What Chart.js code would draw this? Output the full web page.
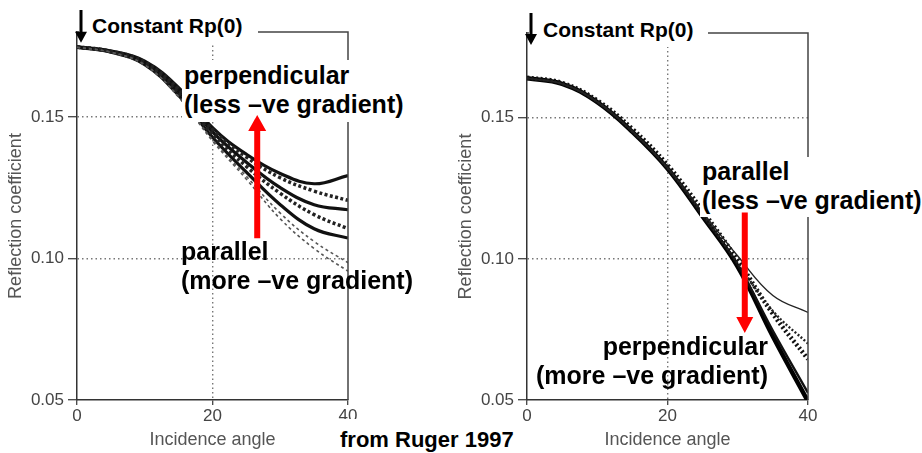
<!DOCTYPE html>
<html>
<head>
<meta charset="utf-8">
<script src="https://cdn.jsdelivr.net/npm/chart.js@4.4.1/dist/chart.umd.min.js"></script>
<style>
    body { margin: 0; background: #fff; }
    #lienzo { position: relative; width: 922px; height: 453px; overflow: hidden; font-family: "Liberation Sans", Arial, sans-serif; }
    canvas { position: absolute; top: 0; z-index: 1; }
    .nota { position: absolute; font-weight: bold; color: #000; white-space: nowrap; z-index: 2; }
    .grande { font-size: 25px; line-height: 29px; }
    .chica { font-size: 21px; line-height: 24px; }
    .caja { background: #fff; }
    svg { position: absolute; left: 0; top: 0; z-index: 3; }
</style>
</head>
<body>
<div id="lienzo">
    <canvas id="graficoIzq" width="455" height="453" style="left:0"></canvas>
    <canvas id="graficoDer" width="467" height="453" style="left:455px"></canvas>

    <div class="nota chica caja" style="left:79px; top:11px; width:166px; padding:3px 0 5px 13px;">Constant Rp(0)</div>
    <div class="nota chica caja" style="left:529px; top:15px; width:165px; padding:3px 0 5px 14px;">Constant Rp(0)</div>

    <div class="nota grande caja" style="left:182px; top:60px; width:221px; padding:1px 0 3px 2px;">perpendicular<br>(less –ve gradient)</div>
    <div class="nota grande" style="left:181px; top:237px;">parallel<br>(more –ve gradient)</div>

    <div class="nota grande caja" style="left:700px; top:157px; width:222px; padding:0 0 2px 2px;">parallel<br>(less –ve gradient)</div>
    <div class="nota grande" style="right:154px; top:332px; text-align:right;">perpendicular<br>(more –ve gradient)</div>

    <div class="nota caja" style="left:334px; top:419px; width:180px; padding:8px 0 0 6px; font-size:22px; line-height:26px;">from Ruger 1997</div>

    <svg id="flechas" width="922" height="453"></svg>
</div>

<script>
const angulos = [0, 5, 10, 15, 20, 25, 30, 35, 40];
const ticksX = [0, 20, 40];
const ticksY = [0.05, 0.10, 0.15];

// grafico izquierdo
const izqSolida1 = [0.1748, 0.1733, 0.1697, 0.1603, 0.1462, 0.1368, 0.1300, 0.1264, 0.1293];
const izqPuntos1 = [0.1748, 0.1732, 0.1694, 0.1598, 0.1456, 0.1358, 0.1285, 0.1238, 0.1205];
const izqSolida2 = [0.1747, 0.1731, 0.1691, 0.1590, 0.1447, 0.1340, 0.1250, 0.1190, 0.1172];
const izqPuntos2 = [0.1747, 0.1730, 0.1688, 0.1583, 0.1438, 0.1325, 0.1230, 0.1155, 0.1105];
const izqSolida3 = [0.1746, 0.1729, 0.1685, 0.1576, 0.1428, 0.1305, 0.1190, 0.1105, 0.1072];
const izqGuion1 = [0.1746, 0.1729, 0.1684, 0.1572, 0.1420, 0.1290, 0.1160, 0.1060, 0.0985];
const izqGuion2 = [0.1746, 0.1728, 0.1683, 0.1570, 0.1415, 0.1280, 0.1140, 0.1035, 0.0955];

// grafico derecho
const derFina = [0.1640, 0.1620, 0.1556, 0.1452, 0.1323, 0.1165, 0.1010, 0.0870, 0.0810];
const derPuntos1 = [0.1640, 0.1620, 0.1556, 0.1451, 0.1322, 0.1158, 0.0985, 0.0815, 0.0700];
const derPuntos2 = [0.1642, 0.1623, 0.1561, 0.1460, 0.1332, 0.1170, 0.0995, 0.0805, 0.0645];
const derSolida = [0.1640, 0.1620, 0.1555, 0.1450, 0.1320, 0.1152, 0.0978, 0.0745, 0.0525];
const derGruesa = [0.1640, 0.1620, 0.1555, 0.1450, 0.1320, 0.1150, 0.0972, 0.0725, 0.0495];

// flechas rojas: angulo, valor de inicio, valor de la punta
const flechaIzq = [26.6, 0.1071, 0.1507];
const flechaDer = [31.0, 0.1164, 0.0737];

Chart.defaults.font.family = "'Liberation Sans', Arial, sans-serif";

const marco = {
    id: "marco",
    afterDraw(chart) {
        const { ctx, chartArea } = chart;
        ctx.save();
        ctx.strokeStyle = "#444";
        ctx.lineWidth = 1.5;
        ctx.beginPath();
        ctx.moveTo(chartArea.left, chartArea.top);
        ctx.lineTo(chartArea.right, chartArea.top);
        ctx.lineTo(chartArea.right, chartArea.bottom);
        ctx.stroke();
        ctx.restore();
    }
};

function serie(valores, color, grosor, guion) {
    return {
        data: angulos.map((a, i) => ({ x: a, y: valores[i] })),
        borderColor: color,
        borderWidth: grosor,
        borderDash: guion || [],
        pointRadius: 0,
        tension: 0.4,
        fill: false
    };
}

function escalas(anchoEjeY, rellenoTitulo) {
    return {
        x: {
            type: "linear",
            min: 0,
            max: 40,
            afterBuildTicks: s => { s.ticks = ticksX.map(v => ({ value: v })); },
            afterFit: s => { s.height = 53; },
            border: { color: "#333", width: 1.5, dash: [1.5, 3] },
            grid: {
                color: c => (c.tick && c.tick.value === 20) ? "#777" : "rgba(0,0,0,0)",
                lineWidth: 1.4,
                tickBorderDash: [],
                tickColor: "#444",
                tickWidth: 1.3,
                tickLength: 5
            },
            ticks: { color: "#444", font: { size: 17 }, padding: 1, maxRotation: 0 },
            title: {
                display: true,
                text: "Incidence angle",
                color: "#555",
                font: { size: 18 },
                padding: { top: 0, bottom: 2 }
            }
        },
        y: {
            type: "linear",
            min: 0.05,
            max: 0.18,
            afterBuildTicks: s => { s.ticks = ticksY.map(v => ({ value: v })); },
            afterFit: s => { s.width = anchoEjeY; },
            border: { color: "#333", width: 1.5, dash: [1.5, 3] },
            grid: {
                color: c => (c.tick && c.tick.value > 0.06) ? "#777" : "rgba(0,0,0,0)",
                lineWidth: 1.4,
                tickBorderDash: [],
                tickColor: "#444",
                tickWidth: 1.3,
                tickLength: 9
            },
            ticks: { color: "#444", font: { size: 17 }, padding: 4, callback: v => v.toFixed(2) },
            title: {
                display: true,
                text: "Reflection coefficient",
                color: "#555",
                font: { size: 18 },
                padding: { top: rellenoTitulo, bottom: 0 }
            }
        }
    };
}

function crearGrafico(id, series, anchoEjeY, rellenoTitulo, relleno) {
    return new Chart(document.getElementById(id), {
        type: "line",
        data: { datasets: series },
        options: {
            responsive: false,
            animation: false,
            devicePixelRatio: 1,
            layout: { padding: relleno },
            plugins: { legend: { display: false }, tooltip: { enabled: false } },
            scales: escalas(anchoEjeY, rellenoTitulo)
        },
        plugins: [marco]
    });
}

const graficoIzq = crearGrafico("graficoIzq", [
    serie(izqGuion2, "#555", 1.6, [3, 3]),
    serie(izqGuion1, "#555", 1.6, [3, 3]),
    serie(izqPuntos2, "#222", 3.5, [3, 2.5]),
    serie(izqPuntos1, "#222", 3.5, [3, 2.5]),
    serie(izqSolida3, "#111", 3.2),
    serie(izqSolida2, "#111", 3.2),
    serie(izqSolida1, "#111", 3.2)
], 77, 5, { top: 32, right: 107, left: 0, bottom: 0 });

const graficoDer = crearGrafico("graficoDer", [
    serie(derFina, "#222", 1.4),
    serie(derPuntos1, "#222", 2.4, [2, 2]),
    serie(derPuntos2, "#111", 4.5, [2, 2.5]),
    serie(derSolida, "#111", 2.4),
    serie(derGruesa, "#000", 4.5)
], 72, 0, { top: 33, right: 114, left: 0, bottom: 0 });

function flecha(svg, x, y0, y1, ancho, anchoPunta, altoPunta, color) {
    const d = y1 > y0 ? 1 : -1;
    const yh = y1 - d * altoPunta;
    const pts = [
        [x - ancho / 2, y0], [x + ancho / 2, y0], [x + ancho / 2, yh], [x + anchoPunta / 2, yh],
        [x, y1], [x - anchoPunta / 2, yh], [x - ancho / 2, yh]
    ];
    const p = document.createElementNS("http://www.w3.org/2000/svg", "polygon");
    p.setAttribute("points", pts.map(q => q.join(",")).join(" "));
    p.setAttribute("fill", color);
    svg.appendChild(p);
}

const svg = document.getElementById("flechas");
const xI = graficoIzq.scales.x, yI = graficoIzq.scales.y;
const xD = graficoDer.scales.x, yD = graficoDer.scales.y;

flecha(svg, xI.getPixelForValue(0) + 4, 10, yI.getPixelForValue(izqSolida1[0]) - 4, 3, 12, 11, "#000");
flecha(svg, 455 + xD.getPixelForValue(0) + 4, 13, graficoDer.chartArea.top + 12, 3, 12, 11, "#000");

flecha(svg, xI.getPixelForValue(flechaIzq[0]), yI.getPixelForValue(flechaIzq[1]),
    yI.getPixelForValue(flechaIzq[2]), 6, 18, 16, "#f00");
flecha(svg, 455 + xD.getPixelForValue(flechaDer[0]), yD.getPixelForValue(flechaDer[1]),
    yD.getPixelForValue(flechaDer[2]), 6, 17, 16, "#f00");
</script>
</body>
</html>
